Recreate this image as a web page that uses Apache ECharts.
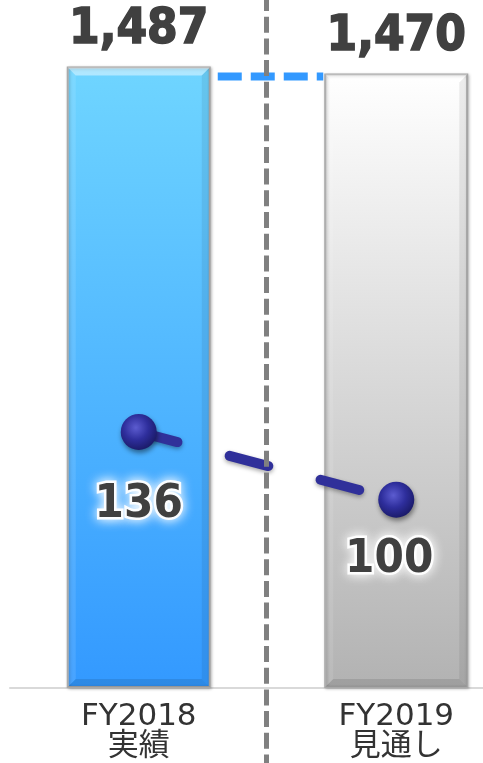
<!DOCTYPE html>
<html>
<head>
<meta charset="utf-8">
<style>
html,body{margin:0;padding:0;background:#fff;}
#chart{width:483px;height:763px;}
</style>
<script src="https://cdn.jsdelivr.net/npm/echarts@6/dist/echarts.min.js"></script>
</head>
<body>
<div id="chart"></div>
<script>
// ---- data ----
const categories = ['FY2018\n実績', 'FY2019\n見通し'];
const salesValues = [1487, 1470];
const profitValues = [136, 100];
const profitLabelOffsets = [[0, 73], [-7, 60]];

const BAR_W = 144;
const BEVEL = 8;
const chart = echarts.init(document.getElementById('chart'));

const barStyles = [
  {
    color: new echarts.graphic.LinearGradient(0, 0, 0, 1, [
      {offset: 0, color: '#6fd5ff'},
      {offset: 1, color: '#3399ff'}
    ]),
    borderColor: '#a8a8a8', borderWidth: 2,
    shadowColor: 'rgba(0,0,0,0.25)', shadowBlur: 3, shadowOffsetX: 1, shadowOffsetY: 1
  },
  {
    color: new echarts.graphic.LinearGradient(0, 0, 0, 1, [
      {offset: 0, color: '#ffffff'},
      {offset: 1, color: '#b2b2b2'}
    ]),
    borderColor: '#a8a8a8', borderWidth: 2,
    shadowColor: 'rgba(0,0,0,0.25)', shadowBlur: 3, shadowOffsetX: 1, shadowOffsetY: 1
  }
];

const sphere = new echarts.graphic.RadialGradient(0.42, 0.38, 0.62, [
  {offset: 0, color: '#5c5cd0'},
  {offset: 0.55, color: '#2e2e9c'},
  {offset: 1, color: '#1c1c6c'}
]);

const option = {
  animation: false,
  backgroundColor: '#ffffff',
  grid: {left: 10, width: 515, top: 61, bottom: 75, outerBoundsMode: 'none', containLabel: false},
  xAxis: {
    type: 'category',
    data: categories,
    boundaryGap: true,
    axisLine: {lineStyle: {color: '#d9d9d9', width: 2}},
    axisTick: {show: false},
    axisLabel: {
      color: '#333333',
      fontFamily: "'DejaVu Sans', 'Noto Sans CJK JP', sans-serif",
      fontSize: 31,
      lineHeight: 30,
      margin: 14
    }
  },
  yAxis: [
    {type: 'value', min: 0, max: 1500, show: false, splitLine: {show: false}},
    {type: 'value', min: 0, max: 333, show: false, splitLine: {show: false}}
  ],
  series: [
    {
      // connector between bar tops
      type: 'custom',
      z: 1,
      clip: false,
      data: [[salesValues[1]]],
      renderItem: function (params, api) {
        const v = api.value(0);
        const p0 = api.coord([0, v]);
        const p1 = api.coord([1, v]);
        return {
          type: 'line',
          shape: {x1: p0[0] + BAR_W / 2 + 7, y1: p0[1] + 3, x2: p1[0] - BAR_W / 2 - 1, y2: p1[1] + 3},
          style: {stroke: '#3399ff', lineWidth: 8, lineDash: [24, 9], lineDashOffset: 0}
        };
      }
    },
    {
      type: 'bar',
      z: 2,
      barWidth: BAR_W,
      data: salesValues.map((v, i) => ({value: v, itemStyle: barStyles[i]})),
      label: {
        show: true,
        position: 'top',
        distance: 12,
        formatter: p => p.value.toLocaleString('en-US'),
        color: '#404040',
        fontFamily: "'DejaVu Sans Condensed', 'DejaVu Sans', sans-serif",
        fontWeight: 'bold',
        fontSize: 49,
        textBorderColor: '#404040',
        textBorderWidth: 1.5
      }
    },
    {
      // bevel shading on the bars
      type: 'custom',
      z: 2,
      clip: false,
      data: salesValues.map((v, i) => [i, v]),
      renderItem: function (params, api) {
        const top = api.coord([api.value(0), api.value(1)]);
        const base = api.coord([api.value(0), 0]);
        const x0 = top[0] - BAR_W / 2 + 1, x1 = top[0] + BAR_W / 2 - 1;
        const y0 = top[1] + 1, y1 = base[1] - 1;
        const b = BEVEL;
        return {
          type: 'group',
          children: [
            {type: 'polygon', shape: {points: [[x0, y0], [x1, y0], [x1 - b, y0 + b], [x0 + b, y0 + b]]},
              style: {fill: 'rgba(255,255,255,0.45)'}, z2: 10},
            {type: 'polygon', shape: {points: [[x0, y0], [x0 + b, y0 + b], [x0 + b, y1 - b], [x0, y1]]},
              style: {fill: 'rgba(255,255,255,0.10)'}, z2: 10},
            {type: 'polygon', shape: {points: [[x1, y0], [x1 - b, y0 + b], [x1 - b, y1 - b], [x1, y1]]},
              style: {fill: 'rgba(0,0,0,0.07)'}, z2: 10},
            {type: 'polygon', shape: {points: [[x0, y1], [x0 + b, y1 - b], [x1 - b, y1 - b], [x1, y1]]},
              style: {fill: 'rgba(0,0,0,0.10)'}, z2: 10}
          ]
        };
      }
    },
    {
      type: 'line',
      z: 3,
      yAxisIndex: 1,
      data: profitValues.map((v, i) => ({
        value: v,
        label: {offset: profitLabelOffsets[i]}
      })),
      symbol: 'circle',
      symbolSize: 36,
      itemStyle: {
        color: sphere,
        shadowColor: 'rgba(0,0,0,0.45)', shadowBlur: 5, shadowOffsetX: 1, shadowOffsetY: 3
      },
      lineStyle: {
        color: '#30309a', width: 10, type: [40, 54], cap: 'round',
        shadowColor: 'rgba(0,0,0,0.35)', shadowBlur: 4, shadowOffsetY: 2
      },
      label: {
        show: true,
        position: 'inside',
        color: '#404040',
        fontFamily: "'DejaVu Sans Condensed', 'DejaVu Sans', sans-serif",
        fontWeight: 'bold',
        fontSize: 47,
        textBorderColor: 'rgba(255,255,255,0.95)',
        textBorderWidth: 5,
        textShadowColor: '#ffffff',
        textShadowBlur: 12
      }
    },
    {
      // vertical divider between the two years
      type: 'custom',
      z: 10,
      clip: false,
      data: [[0]],
      renderItem: function (params, api) {
        const a = api.coord([0, 0]);
        const b = api.coord([1, 0]);
        const x = (a[0] + b[0]) / 2 - 1;
        return {
          type: 'line',
          shape: {x1: x, y1: 0, x2: x, y2: api.getHeight()},
          style: {stroke: '#808080', lineWidth: 5, lineDash: [16, 5.7], lineDashOffset: 5}
        };
      }
    }
  ]
};
chart.setOption(option);
</script>
</body>
</html>
